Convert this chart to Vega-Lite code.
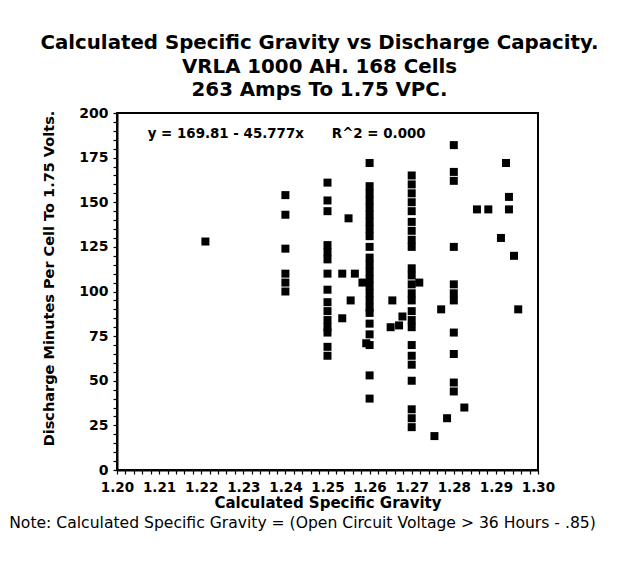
{
  "$schema": "https://vega.github.io/schema/vega-lite/v6.json",
  "background": "white",
  "padding": {"left": 8, "top": 33, "right": 5, "bottom": 5},
  "title": {
    "text": ["Calculated Specific Gravity vs Discharge Capacity.", "VRLA 1000 AH. 168 Cells", "263 Amps To 1.75 VPC."],
    "font": "DejaVu Sans", "fontSize": 19.8, "fontWeight": "bold", "lineHeight": 23.5,
    "color": "black", "anchor": "middle", "offset": 5, "dx": 17
  },
  "config": {
    "view": {"stroke": "black", "strokeWidth": 2},
    "axis": {"labelFont": "DejaVu Sans", "labelFontWeight": "bold", "labelColor": "black", "titleFont": "DejaVu Sans", "titleFontWeight": "bold", "titleColor": "black", "domainColor": "black", "domainWidth": 2, "tickColor": "black", "tickWidth": 1.2, "tickSize": 4, "grid": false}
  },
  "datasets": {
    "pts": [
      {"sg": 1.221, "minutes": 128},
      {"sg": 1.24, "minutes": 154}, {"sg": 1.24, "minutes": 143}, {"sg": 1.24, "minutes": 124}, {"sg": 1.24, "minutes": 110}, {"sg": 1.24, "minutes": 105}, {"sg": 1.24, "minutes": 100},
      {"sg": 1.25, "minutes": 161}, {"sg": 1.25, "minutes": 151}, {"sg": 1.25, "minutes": 145}, {"sg": 1.25, "minutes": 126}, {"sg": 1.25, "minutes": 122}, {"sg": 1.25, "minutes": 118}, {"sg": 1.25, "minutes": 110}, {"sg": 1.25, "minutes": 101}, {"sg": 1.25, "minutes": 94}, {"sg": 1.25, "minutes": 89}, {"sg": 1.25, "minutes": 84}, {"sg": 1.25, "minutes": 80}, {"sg": 1.25, "minutes": 77}, {"sg": 1.25, "minutes": 69}, {"sg": 1.25, "minutes": 64},
      {"sg": 1.2535, "minutes": 110}, {"sg": 1.2535, "minutes": 85},
      {"sg": 1.255, "minutes": 141}, {"sg": 1.2555, "minutes": 95}, {"sg": 1.2565, "minutes": 110},
      {"sg": 1.2583, "minutes": 105}, {"sg": 1.2592, "minutes": 71},
      {"sg": 1.26, "minutes": 172}, {"sg": 1.26, "minutes": 159}, {"sg": 1.26, "minutes": 155}, {"sg": 1.26, "minutes": 151}, {"sg": 1.26, "minutes": 147}, {"sg": 1.26, "minutes": 143}, {"sg": 1.26, "minutes": 139}, {"sg": 1.26, "minutes": 135}, {"sg": 1.26, "minutes": 131}, {"sg": 1.26, "minutes": 125}, {"sg": 1.26, "minutes": 119}, {"sg": 1.26, "minutes": 115}, {"sg": 1.26, "minutes": 111}, {"sg": 1.26, "minutes": 107}, {"sg": 1.26, "minutes": 103}, {"sg": 1.26, "minutes": 99}, {"sg": 1.26, "minutes": 95}, {"sg": 1.26, "minutes": 91}, {"sg": 1.26, "minutes": 88}, {"sg": 1.26, "minutes": 82}, {"sg": 1.26, "minutes": 76}, {"sg": 1.26, "minutes": 70}, {"sg": 1.26, "minutes": 53}, {"sg": 1.26, "minutes": 40},
      {"sg": 1.2654, "minutes": 95}, {"sg": 1.265, "minutes": 80}, {"sg": 1.267, "minutes": 81}, {"sg": 1.2678, "minutes": 86},
      {"sg": 1.27, "minutes": 165}, {"sg": 1.27, "minutes": 160}, {"sg": 1.27, "minutes": 155}, {"sg": 1.27, "minutes": 150}, {"sg": 1.27, "minutes": 145}, {"sg": 1.27, "minutes": 139}, {"sg": 1.27, "minutes": 134}, {"sg": 1.27, "minutes": 129}, {"sg": 1.27, "minutes": 125}, {"sg": 1.27, "minutes": 113}, {"sg": 1.27, "minutes": 109}, {"sg": 1.27, "minutes": 104}, {"sg": 1.27, "minutes": 99}, {"sg": 1.27, "minutes": 95}, {"sg": 1.27, "minutes": 89}, {"sg": 1.27, "minutes": 84}, {"sg": 1.27, "minutes": 80}, {"sg": 1.27, "minutes": 70}, {"sg": 1.27, "minutes": 64}, {"sg": 1.27, "minutes": 59}, {"sg": 1.27, "minutes": 50}, {"sg": 1.27, "minutes": 34}, {"sg": 1.27, "minutes": 29}, {"sg": 1.27, "minutes": 24},
      {"sg": 1.2718, "minutes": 105},
      {"sg": 1.2754, "minutes": 19}, {"sg": 1.277, "minutes": 90}, {"sg": 1.2784, "minutes": 29},
      {"sg": 1.28, "minutes": 182}, {"sg": 1.28, "minutes": 167}, {"sg": 1.28, "minutes": 162}, {"sg": 1.28, "minutes": 125}, {"sg": 1.28, "minutes": 104}, {"sg": 1.28, "minutes": 99}, {"sg": 1.28, "minutes": 95}, {"sg": 1.28, "minutes": 77}, {"sg": 1.28, "minutes": 65}, {"sg": 1.28, "minutes": 49}, {"sg": 1.28, "minutes": 44},
      {"sg": 1.2825, "minutes": 35},
      {"sg": 1.2855, "minutes": 146}, {"sg": 1.2882, "minutes": 146},
      {"sg": 1.2912, "minutes": 130}, {"sg": 1.2924, "minutes": 172}, {"sg": 1.2931, "minutes": 153}, {"sg": 1.2931, "minutes": 146},
      {"sg": 1.2943, "minutes": 120}, {"sg": 1.2953, "minutes": 90}
    ],
    "eq": [{"sg": 1.2073, "minutes": 188, "label": "y = 169.81 - 45.777x\u00a0\u00a0\u00a0\u00a0\u00a0\u00a0R^2 = 0.000"}]
  },
  "vconcat": [
    {
      "width": 421,
      "height": 357,
      "title": {
        "text": "Note: Calculated Specific Gravity = (Open Circuit Voltage > 36 Hours - .85)",
        "orient": "bottom", "anchor": "middle", "font": "DejaVu Sans", "fontSize": 15.6, "fontWeight": "normal", "color": "black", "offset": 5, "dx": -25
      },
      "encoding": {
        "x": {"field": "sg", "type": "quantitative", "scale": {"domain": [1.2, 1.3], "nice": false, "zero": false},
          "axis": {"orient": "bottom", "title": "Calculated Specific Gravity", "titleFontSize": 15, "titlePadding": 2, "labelFontSize": 13.5, "labelPadding": 6,
            "values": [1.2,1.202,1.204,1.206,1.208,1.21,1.212,1.214,1.216,1.218,1.22,1.222,1.224,1.226,1.228,1.23,1.232,1.234,1.236,1.238,1.24,1.242,1.244,1.246,1.248,1.25,1.252,1.254,1.256,1.258,1.26,1.262,1.264,1.266,1.268,1.27,1.272,1.274,1.276,1.278,1.28,1.282,1.284,1.286,1.288,1.29,1.292,1.294,1.296,1.298,1.3],
            "labelExpr": "abs(datum.value*100 - round(datum.value*100)) < 0.01 ? format(datum.value, '.2f') : ''",
            "labelOverlap": false, "labelFlush": false}},
        "y": {"field": "minutes", "type": "quantitative", "scale": {"domain": [0, 200], "nice": false},
          "axis": {"orient": "left", "title": "Discharge Minutes Per Cell To 1.75 Volts.", "titleFontSize": 14.5, "titlePadding": 22, "titleY": 165, "labelFontSize": 14, "labelPadding": 5,
            "values": [0,5,10,15,20,25,30,35,40,45,50,55,60,65,70,75,80,85,90,95,100,105,110,115,120,125,130,135,140,145,150,155,160,165,170,175,180,185,190,195,200],
            "labelExpr": "datum.value % 25 == 0 ? datum.label : ''", "labelOverlap": false}}
      },
      "layer": [
        {
          "data": {"name": "pts"},
          "mark": {"type": "point", "shape": "square", "filled": true, "color": "black", "size": 64, "opacity": 1}
        },
        {
          "data": {"name": "eq"},
          "mark": {"type": "text", "align": "left", "baseline": "middle", "font": "DejaVu Sans", "fontWeight": "bold", "fontSize": 13.4, "color": "black"},
          "encoding": {
            "text": {"field": "label"}
          }
        }
      ]
    }
  ]
}
